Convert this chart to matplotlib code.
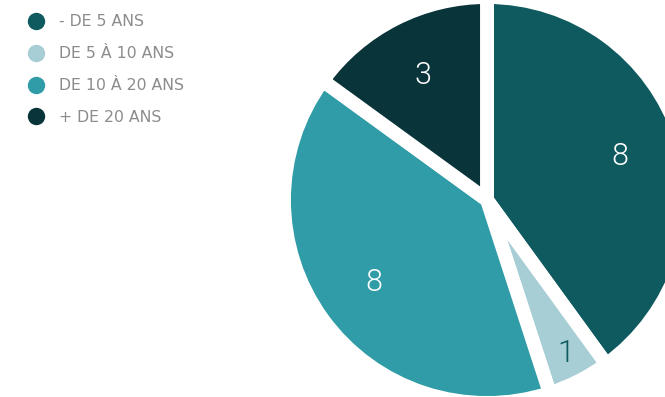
import matplotlib.pyplot as plt
from matplotlib.lines import Line2D
import numpy as np

# Data
categories = ['- DE 5 ANS', 'DE 5 À 10 ANS', 'DE 10 À 20 ANS', '+ DE 20 ANS']
values = [8, 1, 8, 3]
colors = ['#0e5a5f', '#a7cdd5', '#2f9ca7', '#09343a']
label_colors = ['white', '#0e5a5f', 'white', 'white']

W, H = 665, 397
fig = plt.figure(figsize=(W / 100, H / 100), dpi=100)
ax = fig.add_axes([0, 0, 1, 1])

R = 203
cx, cy = 487, H - 200
wedges, _ = ax.pie(values, colors=colors, startangle=90, counterclock=False,
                   radius=R, center=(cx, cy), frame=True,
                   wedgeprops=dict(edgecolor='white', linewidth=10))
ax.set_xlim(0, W)
ax.set_ylim(0, H)
ax.set_aspect('equal')
ax.axis('off')

# value labels
for w, v, c in zip(wedges, values, label_colors):
    ang = np.deg2rad((w.theta1 + w.theta2) / 2)
    d = 0.85 if v == 1 else 0.69
    ax.text(cx + d * R * np.cos(ang), cy + d * R * np.sin(ang), str(v),
            ha='center', va='center', color=c, fontsize=22,
            family='Roboto', fontweight=300)

# legend
handles = [Line2D([], [], marker='o', linestyle='', markersize=11.5,
                  markerfacecolor=c, markeredgecolor=c) for c in colors]
ax.legend(handles, categories, loc='upper left', bbox_to_anchor=(0.01, 1.0),
          frameon=False, labelcolor='#8c8c8c', handletextpad=0.45,
          labelspacing=1.08, prop=dict(family='DejaVu Sans', size=11.3))

fig.savefig('out.png', dpi=100)
